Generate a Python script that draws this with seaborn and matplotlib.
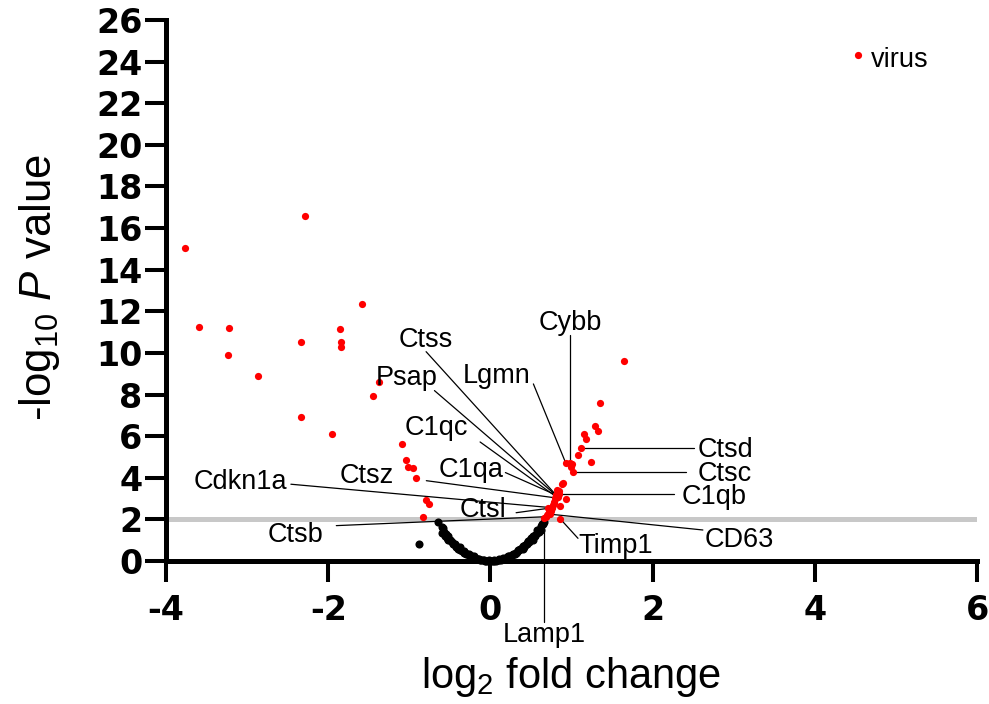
import numpy as np
import pandas as pd
import matplotlib
matplotlib.use("Agg")
import matplotlib.pyplot as plt
import seaborn as sns

# ---------------- data ----------------
# significant (red) points
sig_x = [-3.77, -2.29, -3.59, -3.22, -3.23, -2.87, -2.34, -2.33, -1.58, -1.85,
         -1.84, -1.84, -1.95, -1.45, -1.37, -1.09, -1.04, -1.02, -0.96, -0.92,
         -0.80, -0.76, -0.83,
         1.65, 1.35, 1.29, 1.33, 1.16, 1.18, 1.08, 1.24, 1.01, 0.99, 0.90,
         0.88, 0.93, 0.79, 0.86, 0.76, 0.75, 0.73, 0.80, 0.78, 0.84, 0.77,
         0.74, 0.72, 0.70, 0.82]
sig_y = [15.05, 16.59, 11.25, 11.20, 9.90, 8.89, 10.53, 6.92, 12.36, 11.15,
         10.53, 10.29, 6.11, 7.93, 8.61, 5.64, 4.87, 4.52, 4.47, 4.00,
         2.92, 2.74, 2.10,
         9.63, 7.61, 6.50, 6.25, 6.10, 5.87, 5.10, 4.75, 4.66, 4.50, 3.74,
         3.70, 3.00, 2.77, 2.66, 2.58, 2.42, 2.26, 3.05, 2.85, 3.35, 2.70,
         2.45, 2.35, 2.20, 3.40]

# non-significant (black) points
ns_x = [-0.88, -0.64, -0.60, -0.58, -0.60, -0.57, -0.55, -0.53, -0.52, -0.50,
        -0.48, -0.47, -0.45, -0.43, -0.41, -0.39, -0.37, -0.35, -0.33, -0.31,
        -0.29, -0.27, -0.25, -0.23, -0.21, -0.19, -0.17, -0.15, -0.13, -0.11,
        -0.09, -0.07, -0.05, -0.03, -0.01, 0.01, 0.03, 0.05, 0.07, 0.09,
        0.11, 0.13, 0.15, 0.17, 0.19, 0.21, 0.23, 0.25, 0.27, 0.29,
        0.31, 0.33, 0.35, 0.37, 0.39, 0.41, 0.43, 0.45, 0.47, 0.49,
        0.51, 0.53, 0.55, 0.57, 0.59, 0.61, 0.63, 0.65, 0.66, 0.40,
        0.45, 0.50, 0.55, 0.60, -0.46, -0.40, -0.30, 0.30, 0.62,
        -0.56, -0.50, -0.44, -0.38, -0.32, -0.26, -0.20, -0.14, -0.08, -0.02,
        0.04, 0.10, 0.16, 0.22, 0.28, 0.34, 0.40, 0.46, 0.52, 0.58, 0.64,
        -0.52, -0.42, -0.32, -0.22, 0.22, 0.32, 0.42, 0.52, 0.60]
ns_y = [0.80, 1.89, 1.62, 1.60, 1.34, 1.40, 1.30, 1.12, 1.18, 1.02,
        0.95, 0.90, 0.82, 0.74, 0.68, 0.62, 0.55, 0.50, 0.45, 0.39,
        0.34, 0.30, 0.26, 0.22, 0.18, 0.15, 0.12, 0.09, 0.07, 0.05,
        0.035, 0.02, 0.01, 0.004, 0.0, 0.0, 0.004, 0.01, 0.02, 0.035,
        0.05, 0.07, 0.09, 0.12, 0.15, 0.18, 0.22, 0.26, 0.30, 0.35,
        0.40, 0.45, 0.51, 0.57, 0.63, 0.70, 0.77, 0.85, 0.92, 1.00,
        1.09, 1.17, 1.27, 1.36, 1.46, 1.56, 1.66, 1.77, 1.88, 0.60,
        0.80, 1.10, 1.20, 1.50, 0.80, 0.60, 0.32, 0.33, 1.50,
        1.22, 1.00, 0.84, 0.65, 0.47, 0.33, 0.22, 0.12, 0.06, 0.04,
        0.05, 0.08, 0.15, 0.24, 0.36, 0.52, 0.72, 0.95, 1.20, 1.48, 1.78,
        1.02, 0.66, 0.38, 0.16, 0.16, 0.38, 0.66, 1.02, 1.40]

# labelled genes
genes  = ['virus', 'Cybb', 'Ctss', 'Lgmn', 'Psap', 'C1qc', 'C1qa', 'Ctsz',
          'Cdkn1a', 'Ctsl', 'Ctsb', 'Lamp1', 'Timp1', 'CD63', 'C1qb', 'Ctsc', 'Ctsd']
gene_x = [4.53, 0.985, 0.81, 0.93, 0.83, 0.81, 0.81, 0.81,
          0.76, 0.71, 0.69, 0.66, 0.86, 0.71, 0.85, 1.015, 1.118]
gene_y = [24.33, 4.71, 3.17, 4.70, 3.09, 3.09, 3.17, 3.03,
          2.56, 2.53, 2.13, 2.05, 2.03, 2.26, 3.22, 4.29, 5.42]

threshold = 2.0
x_ticks = [-4, -2, 0, 2, 4, 6]
y_ticks = list(range(0, 27, 2))

# label layout: text position (x, baseline y) and leader start
label_pos = {
    'virus':  ((4.69, 23.72), None),
    'Cybb':   ((0.99, 11.10), (0.985, 10.87)),
    'Ctss':   ((-0.796, 10.30), (-0.793, 10.06)),
    'Lgmn':   ((0.076, 8.57), (0.53, 8.51)),
    'Psap':   ((-1.03, 8.46), (-0.69, 8.19)),
    'C1qc':   ((-0.666, 6.06), (-0.127, 5.72)),
    'C1qa':   ((-0.232, 4.02), (0.185, 4.25)),
    'Ctsz':   ((-1.52, 3.74), (-0.79, 3.86)),
    'Cdkn1a': ((-3.08, 3.45), (-2.46, 3.69)),
    'Ctsl':   ((-0.086, 2.13), (0.317, 2.32)),
    'Ctsb':   ((-2.40, 0.93), (-1.90, 1.70)),
    'Lamp1':  ((0.666, -3.89), (0.66, -2.93)),
    'Timp1':  ((1.54, 0.37), (1.08, 1.09)),
    'CD63':   ((3.07, 0.69), (2.62, 1.49)),
    'C1qb':   ((2.76, 2.72), (2.27, 3.22)),
    'Ctsc':   ((2.89, 3.86), (2.41, 4.29)),
    'Ctsd':   ((2.90, 4.99), (2.515, 5.42)),
}

# ---------------- style ----------------
sns.set_theme(style="ticks")
plt.rcParams['font.family'] = ['Liberation Sans', 'DejaVu Sans']
plt.rcParams['mathtext.fontset'] = 'custom'
plt.rcParams['mathtext.rm'] = 'Liberation Sans'
plt.rcParams['mathtext.it'] = 'Liberation Sans:italic'
plt.rcParams['mathtext.default'] = 'regular'
for k in ['text.color', 'axes.labelcolor', 'xtick.color', 'ytick.color',
          'xtick.labelcolor', 'ytick.labelcolor']:
    plt.rcParams[k] = 'black'

W, H = 989, 704
fig = plt.figure(figsize=(W / 100, H / 100), dpi=100)
ax = fig.add_axes([166 / W, 1 - 561 / H, (977 - 166) / W, (561 - 20) / H])

ax.axhline(threshold, color='#c8c8c8', lw=3.6, zorder=0.5)

ns_df = pd.DataFrame({'x': ns_x, 'y': ns_y})
sig_df = pd.DataFrame({'x': sig_x + gene_x, 'y': sig_y + gene_y})

sns.scatterplot(data=ns_df, x='x', y='y', color='black', s=34, linewidth=0,
                ax=ax, zorder=2, clip_on=False)
sns.scatterplot(data=sig_df, x='x', y='y', color='#ff0000', s=27, linewidth=0,
                ax=ax, zorder=3, clip_on=False)

# labels and leaders
for g, gx, gy in zip(genes, gene_x, gene_y):
    (tx, ty), start = label_pos[g]
    if start is None:
        ax.text(tx, ty, g, ha='left', va='baseline', fontsize=19.5, color='black')
    else:
        ax.text(tx, ty, g, ha='center', va='baseline', fontsize=19.5,
                color='black', clip_on=False)
        ax.plot([start[0], gx], [start[1], gy], color='black', lw=0.9,
                zorder=2.5, clip_on=False)

ax.set_xlim(-4, 6)
ax.set_ylim(0, 26)
ax.set_xticks(x_ticks)
ax.set_yticks(y_ticks)
ax.set_xticklabels([str(t) for t in x_ticks])
ax.set_yticklabels([str(t) for t in y_ticks])
for lab in ax.get_xticklabels() + ax.get_yticklabels():
    lab.set_fontfamily('DejaVu Sans')
    lab.set_fontweight('bold')
    lab.set_fontsize(24)
    lab.set_color('black')
ax.tick_params(axis='both', width=2.9, length=15, color='black')
ax.tick_params(axis='y', pad=2)
ax.tick_params(axis='x', pad=9)
for side in ['top', 'right']:
    ax.spines[side].set_visible(False)
for side in ['left', 'bottom']:
    ax.spines[side].set_linewidth(3.6)
    ax.spines[side].set_color('black')
    ax.spines[side].set_capstyle('projecting')
ax.set_xlabel('')
ax.set_ylabel('')

fig.text(571.5 / W, 1 - 688 / H, r'log$_2$ fold change', ha='center',
         va='baseline', fontsize=30, color='black')
fig.text(40 / W, 1 - 288 / H, r'-log$_{10}$ $\mathit{P}$ value', ha='center',
         va='center', rotation=90, fontsize=31.5, color='black')

fig.savefig('out.png', dpi=100)
